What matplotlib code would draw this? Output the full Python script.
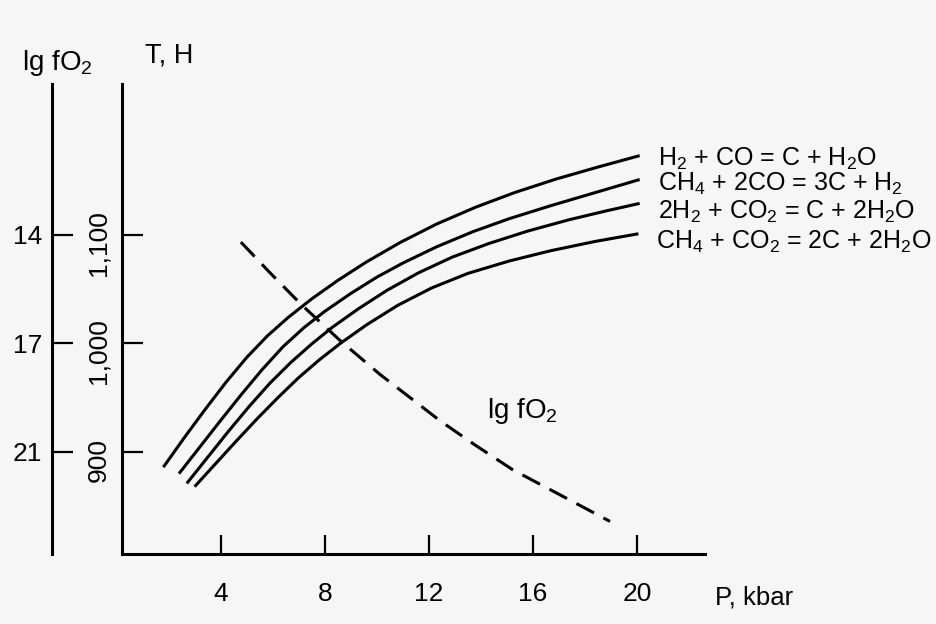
import numpy as np
import matplotlib
matplotlib.use("Agg")
import matplotlib.pyplot as plt
from matplotlib.transforms import ScaledTranslation

plt.rcParams["font.family"] = ["Liberation Sans", "DejaVu Sans"]
plt.rcParams["mathtext.fontset"] = "custom"
plt.rcParams["mathtext.rm"] = "Liberation Sans"
plt.rcParams["mathtext.it"] = "Liberation Sans:italic"
plt.rcParams["mathtext.default"] = "regular"

# equilibrium curves, P [kbar] vs T
P_1 = [1.8, 2.6, 3.4, 4.2, 5.0, 5.8, 6.6, 7.5, 8.5, 9.6, 10.9, 12.3, 13.8, 15.3, 16.9, 18.5, 20.1]
T_1 = [886, 913, 939, 964, 987, 1007, 1024, 1041, 1058, 1075, 1093, 1110, 1125.5, 1139, 1151.5, 1162.5, 1173]
P_2 = [2.4, 3.2, 4.0, 4.8, 5.6, 6.4, 7.2, 8.0, 9.0, 10.0, 11.0, 12.3, 13.7, 15.1, 16.7, 18.4, 20.1]
T_2 = [880, 904.5, 929, 953, 976, 997, 1014.5, 1029.5, 1046, 1061, 1074, 1089, 1103, 1115, 1127, 1139, 1151]
P_3 = [2.7, 3.5, 4.3, 5.1, 5.9, 6.7, 7.5, 8.3, 9.3, 10.4, 11.6, 12.9, 14.3, 15.8, 17.4, 18.8, 20.1]
T_3 = [871, 895, 919, 942, 963.5, 982.5, 999.5, 1015, 1032, 1049, 1065, 1079.5, 1092, 1103.5, 1114, 1122, 1129]
P_4 = [3.0, 3.8, 4.6, 5.4, 6.2, 7.0, 7.8, 8.6, 9.6, 10.8, 12.1, 13.5, 15.1, 16.7, 18.4, 20.05]
T_4 = [868, 889, 910, 930.5, 950, 968.5, 985, 1000, 1017, 1035, 1051, 1064.5, 1076, 1085.5, 1094, 1101]

REACTIONS = [
    r"H$_2$ + CO = C + H$_2$O",
    r"CH$_4$ + 2CO = 3C + H$_2$",
    r"2H$_2$ + CO$_2$ = C + 2H$_2$O",
    r"CH$_4$ + CO$_2$ = 2C + 2H$_2$O",
]

# oxygen fugacity curve
P_FO2 = [4.78, 5.9, 7.12, 8.59, 10.12, 12.43, 13.77, 15.23, 17.04, 18.96]
LG_FO2 = [14.2, 15.05, 15.94, 16.92, 18.14, 19.85, 20.74, 21.66, 22.58, 23.56]

P_TICKS = [4, 8, 12, 16, 20]
T_TICKS = [900, 1000, 1100]
T_LABELS = ["900", "1,000", "1,100"]
FO2_TICKS = [14, 17, 21]

# the lg fO2 scale is drawn against the T scale: 14 <-> 1100, 17 <-> 1000, 21 <-> 900
fo2_knots = np.array([0.0, 14, 17, 21, 40])
t_knots = np.array([1100 + 14 * 100 / 3, 1100, 1000, 900, 900 - 19 * 25])


def fo2_to_T(v):
    return np.interp(v, fo2_knots, t_knots)


def T_to_fo2(t):
    return np.interp(t, t_knots[::-1], fo2_knots[::-1])


LW = 2.2
fig = plt.figure(figsize=(9.36, 6.24), dpi=100)
fig.patch.set_facecolor("#f6f6f6")
ax = fig.add_axes([0.1303, 0.1122, 0.6229, 0.7532])
ax.set_facecolor("none")

curves = [(P_1, T_1), (P_2, T_2), (P_3, T_3), (P_4, T_4)]
label_dy = [-2, -3.5, -6, -5.5]
for (p, t), txt, dy in zip(curves, REACTIONS, label_dy):
    ax.plot(p, t, color="black", lw=LW, solid_capstyle="butt", solid_joinstyle="round")
    ax.annotate(txt, (p[-1], t[-1]), xytext=(13, dy), textcoords="offset points",
                ha="left", va="center", fontsize=18)

ax.plot(P_FO2, fo2_to_T(LG_FO2), color="black", lw=LW, dashes=(6.5, 3.5))
ax.text(14.25, 931, r"lg fO$_2$", fontsize=20, ha="left", va="baseline")

ax.set_xlim(0.21, 22.61)
ax.set_ylim(806, 1239)
for s in ["top", "right"]:
    ax.spines[s].set_visible(False)
for s in ["left", "bottom"]:
    ax.spines[s].set_linewidth(LW)

ax.set_xticks(P_TICKS)
ax.set_xticklabels([str(v) for v in P_TICKS])
ax.tick_params(axis="x", direction="in", length=14, width=1.6, pad=20, labelsize=19)
ax.set_yticks(T_TICKS)
ax.set_yticklabels(T_LABELS, rotation=90, va="center")
ax.tick_params(axis="y", direction="in", length=15, width=1.6, pad=8, labelsize=19)
shift = ScaledTranslation(0, -8 / 100, fig.dpi_scale_trans)
for lab in ax.get_yticklabels():
    lab.set_transform(lab.get_transform() + shift)

sec = ax.secondary_yaxis(-0.12, functions=(T_to_fo2, fo2_to_T))
sec.set_yticks(FO2_TICKS)
sec.set_yticklabels([str(v) for v in FO2_TICKS])
sec.tick_params(direction="in", length=15, width=1.6, pad=7, labelsize=19)
sec.spines["left"].set_linewidth(LW)

fig.text(22 / 936, 1 - 70 / 624, r"lg fO$_2$", fontsize=20, ha="left", va="baseline")
fig.text(145 / 936, 1 - 62 / 624, "T, H", fontsize=19.5, ha="left", va="baseline")
fig.text(715 / 936, 1 - 605 / 624, "P, kbar", fontsize=18.5, ha="left", va="baseline")

fig.savefig("out.png", dpi=100, facecolor=fig.get_facecolor())
